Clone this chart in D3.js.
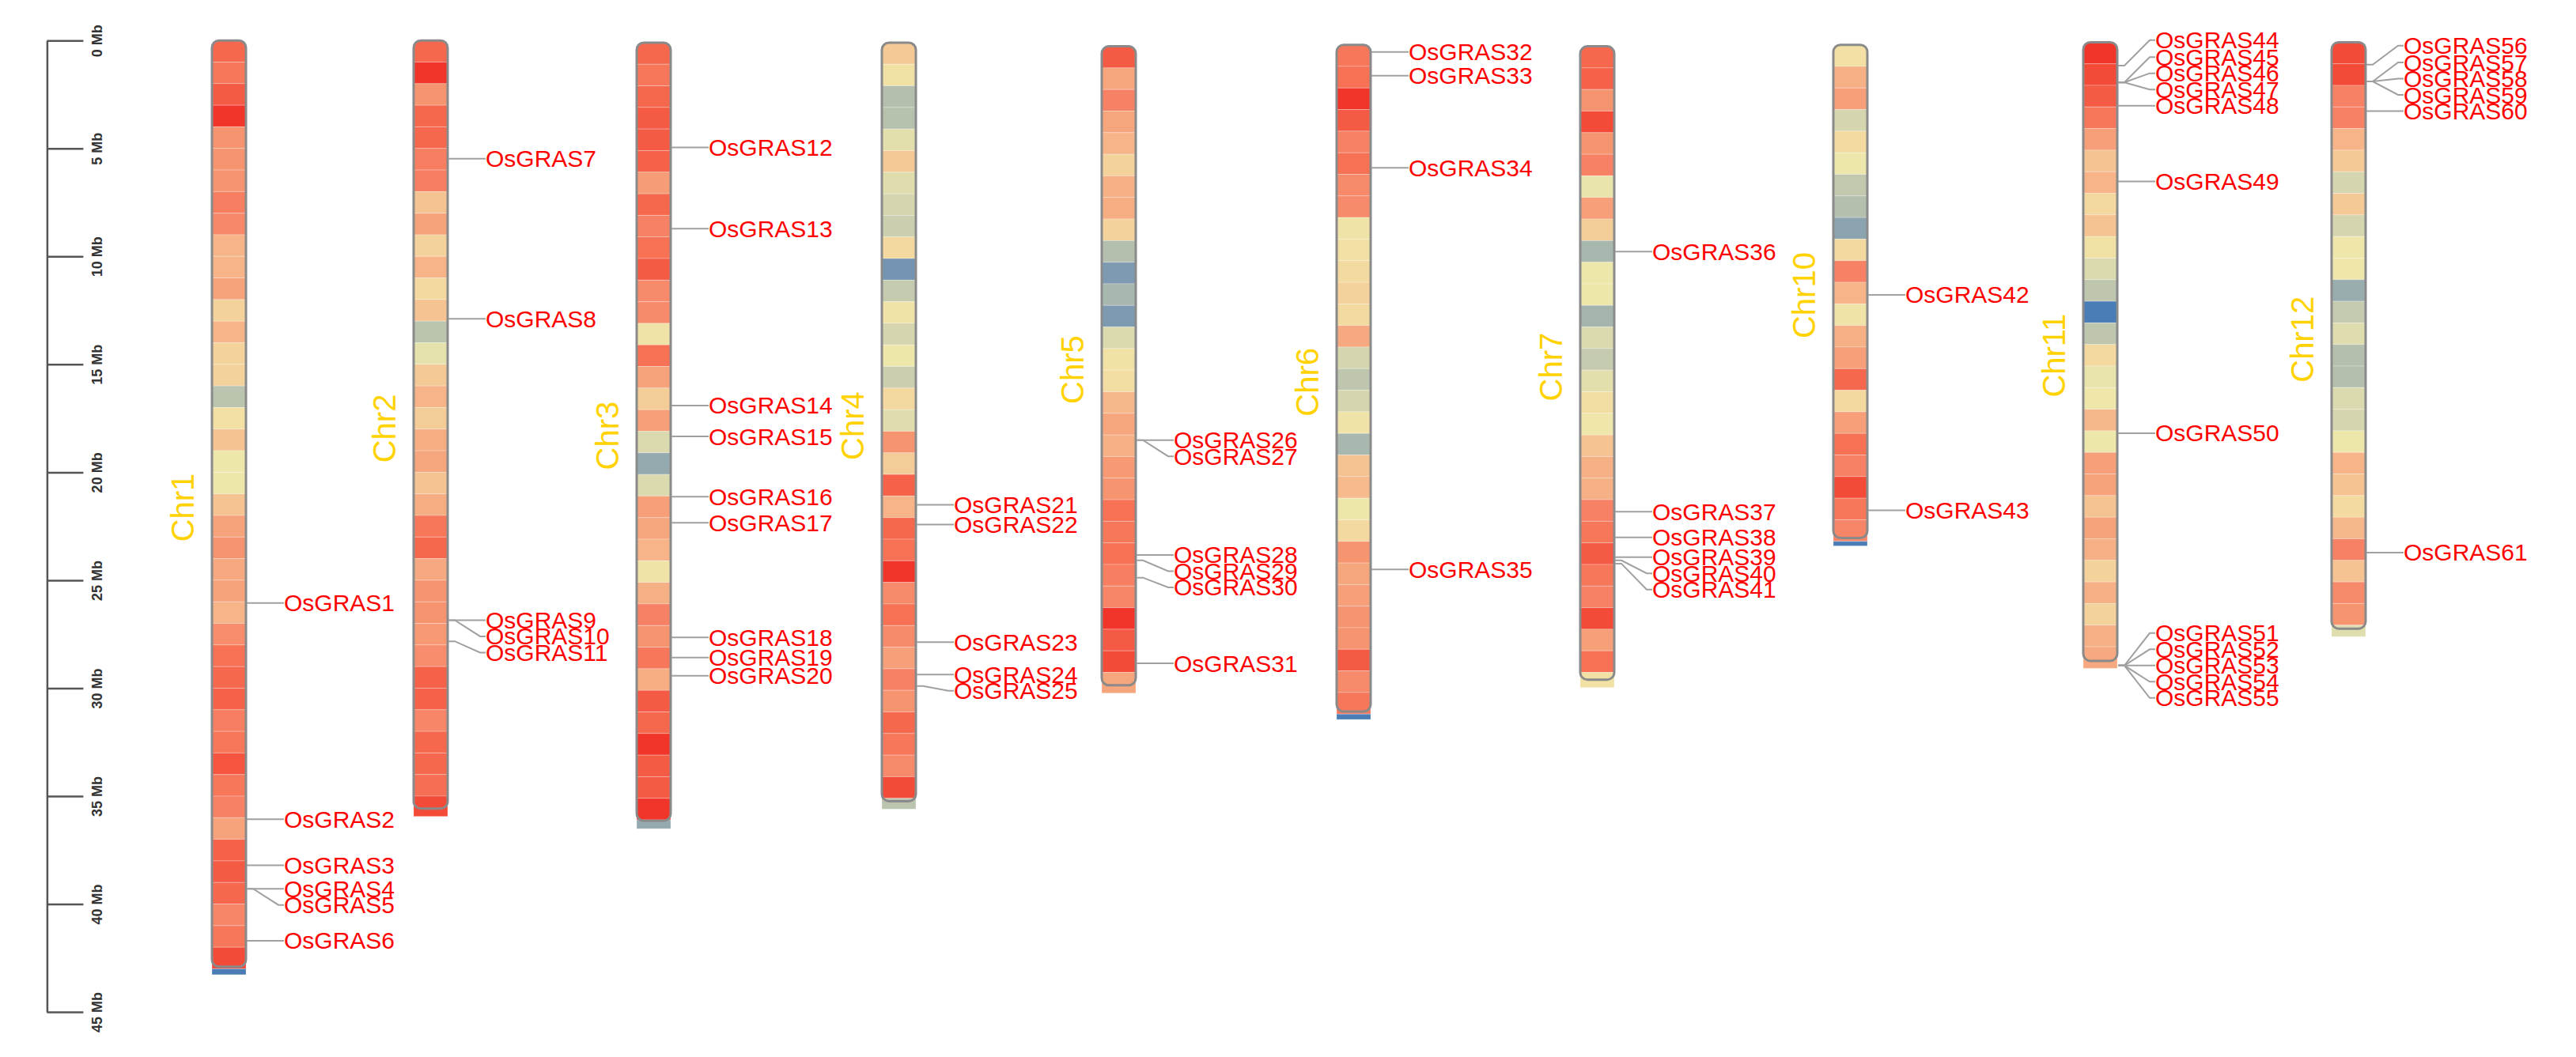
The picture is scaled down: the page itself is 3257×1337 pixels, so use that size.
<!DOCTYPE html>
<html lang="en">
<head>
<meta charset="UTF-8">
<title>OsGRAS chromosome map</title>
<script src="https://d3js.org/d3.v7.min.js"></script>
<style>
  body { margin: 0; background: #fff; }
  svg { display: block; font-family: Arial, "Liberation Sans", sans-serif; }
</style>
</head>
<body>
<div id="chart"></div>
<script>
// chromosomes shown
var chrNames = ["Chr1", "Chr2", "Chr3", "Chr4", "Chr5", "Chr6", "Chr7", "Chr10", "Chr11", "Chr12"];
var chrLength = [43.27, 35.94, 36.41, 35.50, 29.96, 31.25, 29.70, 23.21, 29.02, 27.53];
var chrStart = [0, 0, 0.1, 0.1, 0.27, 0.2, 0.27, 0.2, 0.08, 0.08];

// gene density per 1 Mb window, 0 = sparse .. 10 = dense
var densChr1 = [8.5,8,9,10,7,7,7,7.8,7.5,6,6,6.5,5,6,5,5,2.5,4.5,5.5,4,4,5.5,6.5,7,6.3,6.5,6,7.3,8.2,8.5,8.7,7.8,8,9.2,8,7.7,6.5,8.7,9,8.5,7.6,8,9.5,0];
var densChr2 = [8.5,10,7,8.5,8.5,7.8,7.8,5.5,6.5,5,6,4.8,5.5,2.5,3.8,5.3,6,5.2,6.2,6.4,5.5,6.2,8,8.5,6.3,7,7,6.8,7.3,8.7,8.7,7.6,8.5,8.5,8.3,9.5];
var densChr3 = [8.5,8,8.5,9,9,8.7,6.7,8.5,7.7,8.2,9,7.4,7.4,4.3,8.2,6.5,5.2,6.6,3.5,1.5,3.5,6.6,6.4,6,4.3,6.1,7.7,7,8,6.2,9,8.5,10,9,9,10,1.5];
var densChr4 = [5.3,4.4,2.3,2.4,3.7,5.3,3.6,3.3,3,4.8,0.8,2.8,4.3,3.3,4,3,4.8,3.6,7,5.2,8.7,6,8.5,8.2,10,7.4,8.2,7.4,6.6,7.7,7,8.5,8,7.4,9.5,2.5];
var densChr5 = [9,6.4,7.7,6.4,6,5,6.1,6.2,5,2.3,1,2,1,3.5,4.4,4.6,5.9,6.4,6.1,6.8,7,8.2,8,8.2,7.8,7.6,10,9,9.5,6.4];
var densChr6 = [8,8.2,10,9,7.7,8.2,7.4,7.4,4.3,4.5,4.7,5,4.7,6.3,3.3,2.6,3.3,4.3,2,5.5,5.8,4,4.8,7,6.4,6.6,7,7,9,7.4,8,0];
var densChr7 = [8.5,8.7,7,9.5,7,7.7,3.9,6.6,5.2,2,4,4,1.9,3.5,2.8,3.7,4.6,4.1,5.5,6.1,6.1,7.7,8,9,8,7.7,9.5,6.6,8.2,4.4];
var densChr10 = [4.5,6.1,6.6,3.3,4.7,4,2.7,2.3,1.3,4.8,7.7,6,4.3,6.1,6.6,8.5,4.8,6.6,8.2,7.7,9.5,8,7.6,0];
var densChr11 = [10,9.5,9,8,6.6,5.5,6,4.8,5.5,4.4,3.5,2.6,0,2.6,4.8,3.9,4.1,5.9,4,6.6,6.5,5.5,6.5,6.1,5,6.1,5,6.1,6.3];
var densChr12 = [9.5,9.5,7.7,7.7,6,5.3,3.3,5.3,3.3,4.1,4.1,1.6,2.8,3.6,2.3,2.3,3.5,3.3,4,6,5.5,4.7,5.9,7.7,5.5,7.4,7,3.6];
var density = [densChr1, densChr2, densChr3, densChr4, densChr5, densChr6, densChr7, densChr10, densChr11, densChr12];

// genes: name, chromosome, position (Mb)
var geneNames = [];
for (var k = 1; k <= 61; k++) geneNames.push("OsGRAS" + k);
var geneChr = ["Chr1","Chr1","Chr1","Chr1","Chr1","Chr1",
  "Chr2","Chr2","Chr2","Chr2","Chr2",
  "Chr3","Chr3","Chr3","Chr3","Chr3","Chr3","Chr3","Chr3","Chr3",
  "Chr4","Chr4","Chr4","Chr4","Chr4",
  "Chr5","Chr5","Chr5","Chr5","Chr5","Chr5",
  "Chr6","Chr6","Chr6","Chr6",
  "Chr7","Chr7","Chr7","Chr7","Chr7","Chr7",
  "Chr10","Chr10",
  "Chr11","Chr11","Chr11","Chr11","Chr11","Chr11","Chr11","Chr11","Chr11","Chr11","Chr11","Chr11",
  "Chr12","Chr12","Chr12","Chr12","Chr12","Chr12"];
var genePos = [26.06, 36.07, 38.2, 39.29, 39.29, 41.7,
  5.48, 12.89, 26.85, 26.85, 27.83,
  4.95, 8.72, 16.91, 18.34, 21.13, 22.34, 27.65, 28.58, 29.42,
  21.51, 22.42, 27.87, 29.37, 29.9,
  18.51, 18.51, 23.83, 24.08, 24.88, 28.85,
  0.53, 1.63, 5.9, 24.5,
  9.78, 21.83, 23.02, 23.93, 24.08, 24.23,
  11.78, 21.76,
  1.16, 1.94, 1.94, 1.94, 3.02, 6.53, 18.19, 28.95, 28.95, 28.95, 28.95, 28.95,
  1.12, 1.9, 1.9, 1.9, 3.27, 23.72];

var tickValues = [0, 5, 10, 15, 20, 25, 30, 35, 40, 45];

var W = 3257, H = 1337;
var chrW = 43;
var labelGap = 20.5;

var svg = d3.select("#chart").append("svg").attr("width", W).attr("height", H);

var y = d3.scaleLinear().domain([0, 45]).range([51.2, 1280.1]);

// left edge of every chromosome
var chrX = d3.scaleOrdinal().domain(chrNames)
  .range([268, 523, 805, 1115, 1393, 1690, 1998, 2318, 2634, 2948]);

var color = d3.scaleLinear()
  .domain([0, 1, 1.5, 2, 2.5, 3, 3.5, 4, 4.5, 5, 5.5, 6, 6.5, 7, 7.5, 8, 8.5, 9, 9.5, 10])
  .range(["#4a7db6", "#7e9ab0", "#95aaaf", "#a9b8ae", "#bbc4ae", "#cbcfaf", "#dbdaaf", "#ede7ab",
          "#f2e0a4", "#f4d29b", "#f5c391", "#f6b488", "#f6a27a", "#f79470", "#f7886a", "#f7775b",
          "#f6684d", "#f55a44", "#f44a38", "#f2352b"]);

// scale bar on the left
var axis = d3.axisRight(y).tickValues(tickValues).tickSize(46).tickSizeOuter(0)
  .tickFormat(function(d) { return d + " Mb"; });
var axG = svg.append("g").attr("transform", "translate(59.4,0)").call(axis);
axG.select(".domain").attr("stroke", "#555").attr("stroke-width", 2.5);
axG.selectAll(".tick line").attr("stroke", "#555").attr("stroke-width", 2.5);
axG.selectAll(".tick text")
  .attr("x", 0).attr("dy", 0)
  .attr("transform", "translate(70,0) rotate(-90)")
  .attr("text-anchor", "middle")
  .attr("fill", "#333")
  .style("font-size", "18px")
  .style("font-weight", "bold")
  .style("font-family", "Arial, 'Liberation Sans', sans-serif");

var defs = svg.append("defs");

chrNames.forEach(function(c, i) {
  var x0 = chrX(c);
  var len = chrLength[i];
  var st = chrStart[i];
  var g = svg.append("g").attr("class", "chr").attr("transform", "translate(" + x0 + ",0)");

  // rounded top, square bottom
  defs.append("clipPath").attr("id", "clip" + i)
    .append("rect").attr("x", 0).attr("y", y(st)).attr("width", chrW)
    .attr("height", y(st + len) - y(st) + 12).attr("rx", 9);

  var bins = density[i].map(function(v, j) {
    return { v: v, s: st + j, e: st + Math.min(j + 1, len) };
  });

  g.append("g").attr("clip-path", "url(#clip" + i + ")")
    .selectAll("rect").data(bins).enter()
    .append("rect")
    .attr("x", 0).attr("width", chrW)
    .attr("y", function(b) { return y(b.s); })
    .attr("height", function(b) { return y(b.e) - y(b.s); })
    .attr("fill", function(b) { return color(b.v); })
    .attr("stroke", "#fff").attr("stroke-opacity", 0.25).attr("stroke-width", 1);

  // outline stops a little short of the chromosome end
  g.append("rect")
    .attr("x", 0).attr("y", y(st)).attr("width", chrW)
    .attr("height", y(st + len) - y(st) - 10).attr("rx", 9)
    .attr("fill", "none").attr("stroke", "#8a8a8a").attr("stroke-width", 3);

  // title
  var cy = (y(st) + y(st + len)) / 2;
  g.append("text")
    .attr("transform", "translate(-23," + cy + ") rotate(-90)")
    .attr("text-anchor", "middle")
    .attr("fill", "#ffd200")
    .style("font-size", "40px")
    .text(c);

  // genes on this chromosome
  var genes = [];
  geneNames.forEach(function(n, j) {
    if (geneChr[j] === c) genes.push({ name: n, pos: genePos[j] });
  });
  genes.sort(function(a, b) { return a.pos - b.pos; });

  // push labels down so they don't overlap
  var clusters = [];
  genes.forEach(function(d) {
    d.gy = y(d.pos);
    var last = clusters.length ? clusters[clusters.length - 1] : null;
    var prev = last ? last[last.length - 1] : null;
    if (prev && d.gy < prev.ly + labelGap + 3) {
      d.ly = Math.max(d.gy, prev.ly + labelGap);
      last.push(d);
    } else {
      d.ly = d.gy;
      clusters.push([d]);
    }
  });
  // big blocks get pulled back up around their genes
  clusters.forEach(function(cl) {
    if (cl.length < 5) return;
    var excess = cl[cl.length - 1].ly - cl[cl.length - 1].gy;
    var shift = Math.min(excess, (cl.length - 1) * labelGap / 2);
    cl.forEach(function(d) { d.ly -= shift; });
  });

  var ex = chrW + 1;
  g.selectAll("path.link").data(genes).enter()
    .append("path").attr("class", "link")
    .attr("d", function(d) {
      return "M" + ex + "," + d.gy + "H" + (ex + 8) + "L" + (ex + 40) + "," + d.ly + "H" + (ex + 47);
    })
    .attr("fill", "none").attr("stroke", "#a0a0a0").attr("stroke-width", 2);

  g.selectAll("text.gene").data(genes).enter()
    .append("text").attr("class", "gene")
    .attr("x", ex + 47).attr("y", function(d) { return d.ly; })
    .attr("dominant-baseline", "central")
    .attr("fill", "#ff0000")
    .style("font-size", "30px")
    .text(function(d) { return d.name; });
});
</script>
</body>
</html>
